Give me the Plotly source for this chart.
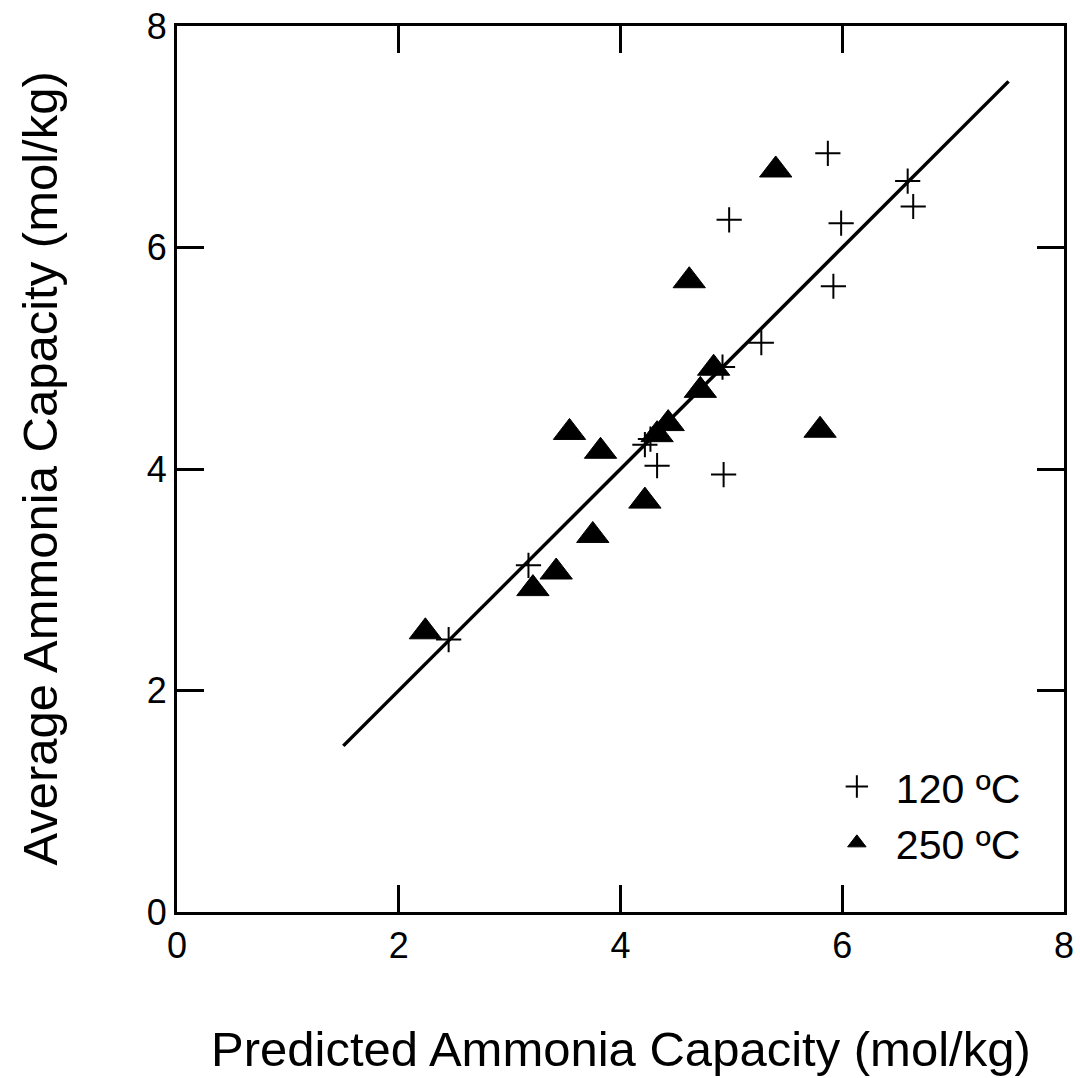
import plotly.graph_objects as go

# 120 ºC series (crosses)
x_120 = [2.45, 3.17, 4.22, 4.27, 4.33, 4.93, 4.92, 5.27, 5.92, 4.98, 5.99, 5.87, 6.59, 6.64]
y_120 = [2.46, 3.13, 4.22, 4.27, 4.03, 3.95, 4.92, 5.14, 5.65, 6.25, 6.22, 6.85, 6.60, 6.37]

# 250 ºC series (triangles)
x_250 = [2.24, 3.21, 3.42, 3.75, 4.22, 3.54, 3.82, 4.33, 4.43, 4.72, 4.84, 4.62, 5.80, 5.40]
y_250 = [2.53, 2.92, 3.07, 3.40, 3.71, 4.33, 4.16, 4.31, 4.41, 4.71, 4.91, 5.70, 4.35, 6.70]

# reference line
fit_x = [1.5, 7.5]
fit_y = [1.5, 7.5]

tick_vals = [0, 2, 4, 6, 8]
tick_text = ["0", "2", "4", "6", "8"]

FONT = "Liberation Sans, Arial, sans-serif"

fig = go.Figure()
fig.add_trace(go.Scatter(x=fit_x, y=fit_y, mode="lines",
                         line=dict(color="black", width=3.5), showlegend=False))
fig.add_trace(go.Scatter(x=x_120, y=y_120, mode="markers", name="120 ºC",
                         marker=dict(symbol="cross-thin", size=18, color="black",
                                     line=dict(color="black", width=2))))
fig.add_trace(go.Scatter(x=x_250, y=y_250, mode="markers", name="250 ºC",
                         marker=dict(symbol="triangle-up", size=28, color="black",
                                     line=dict(color="black", width=1))))

axis_common = dict(
    range=[0, 8], tickvals=tick_vals, ticktext=tick_text,
    ticks="inside", ticklen=27, tickwidth=3, tickcolor="black",
    showline=True, linecolor="black", linewidth=3, mirror="ticks",
    showgrid=False, zeroline=False, automargin=False,
    tickfont=dict(family=FONT, size=36, color="black"),
)

fig.update_layout(
    width=1080, height=1078,
    margin=dict(l=177, r=16, t=26, b=166),
    plot_bgcolor="white", paper_bgcolor="white",
    xaxis=dict(**axis_common),
    yaxis=dict(**axis_common),
    showlegend=True,
    legend=dict(x=0.7225, y=0.179, xanchor="left", yanchor="top",
                bgcolor="rgba(0,0,0,0)", borderwidth=0,
                font=dict(family=FONT, size=41, color="black"),
                itemwidth=68, tracegroupgap=0),
    annotations=[
        dict(text="Predicted Ammonia Capacity (mol/kg)", xref="paper", yref="paper",
             x=0.5, y=-0.155, xanchor="center", yanchor="middle", showarrow=False,
             font=dict(family=FONT, size=49, color="black")),
        dict(text="Average Ammonia Capacity (mol/kg)", xref="paper", yref="paper",
             x=-0.155, y=0.5, xanchor="center", yanchor="middle", showarrow=False,
             textangle=-90,
             font=dict(family=FONT, size=49, color="black")),
    ],
)

fig.write_html("out.html")
